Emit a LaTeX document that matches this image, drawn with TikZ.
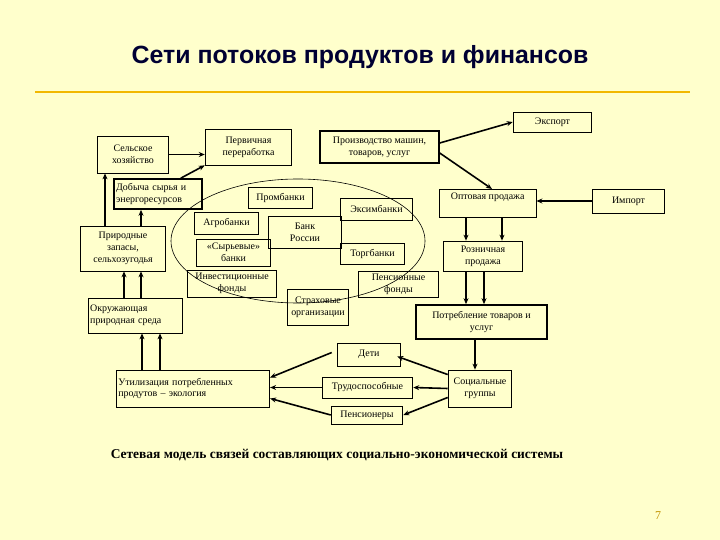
\documentclass[tikz,border=0pt]{standalone}
\usepackage{fontspec}
\setmainfont{Liberation Serif}
\newfontfamily\titlefont{Liberation Sans}
\usetikzlibrary{arrows.meta}
\definecolor{bg}{HTML}{FFFFCC}
\definecolor{orng}{HTML}{F2B800}
\begin{document}
\begin{tikzpicture}[x=1bp,y=-1bp,
  box/.style={draw,line width=0.8pt,inner sep=1pt,font=\fontsize{10}{12}\selectfont,align=center},
  tbox/.style={box,line width=1.8pt},
  arr/.style={line width=1.6pt,-{Stealth[length=6pt,width=5pt]}}]
\fill[bg] (0,0) rectangle (720,540);
\useasboundingbox (0,0) rectangle (720,540);
\node[font=\titlefont\bfseries\fontsize{25}{28}\selectfont,text=black!80!blue] (title) at (360,57) {Сети потоков продуктов и финансов};
\draw[orng,line width=3pt] (35,92) -- (690,92);
\draw[line width=0.6pt] (298,241) ellipse (127 and 62);
% left column
\node[box,minimum width=72,minimum height=37] (sel) at (133,154.5) {Сельское\\хозяйство};
\node[box,minimum width=87,minimum height=36] (per) at (248.5,147) {Первичная\\переработка};
\node[tbox,minimum width=88,minimum height=30,align=left,text width=84] (dob) at (158,194) {Добыча сырья и\\энергоресурсов};
\node[box,minimum width=86,minimum height=45] (pri) at (123,248.5) {Природные\\запасы,\\сельхозугодья};
\node[box,minimum width=95,minimum height=35,align=left,text width=91] (okr) at (135.5,315.5) {Окружающая\\природная среда};
% banks
\node[box,minimum width=65,minimum height=21] (prom) at (280.5,197.5) {Промбанки};
\node[box,minimum width=65,minimum height=22] (agro) at (226.5,223) {Агробанки};
\node[box,minimum width=74,minimum height=32] (bank) at (305,232) {Банк\\России};
\node[box,minimum width=73,minimum height=22] (exim) at (376.5,209) {Эксимбанки};
\node[box,minimum width=75,minimum height=27] (syr) at (233.5,252.5) {«Сырьевые»\\банки};
\node[box,minimum width=65,minimum height=21] (torg) at (372.5,253.5) {Торгбанки};
\node[box,minimum width=90,minimum height=27] (inv) at (232,283.5) {Инвестиционные\\фонды};
\node[box,minimum width=62,minimum height=36] (str) at (318,307) {Страховые\\организации};
\node[box,minimum width=81,minimum height=26] (pen) at (398.5,284) {Пенсионные\\фонды};
% right
\node[tbox,minimum width=119,minimum height=32] (proizv) at (379.5,147) {Производство машин,\\товаров, услуг};
\node[box,minimum width=79,minimum height=20] (exp) at (552.5,122) {Экспорт};
\node[box,minimum width=97,minimum height=28,anchor=north west,align=left,text depth=14pt] (opt) at (439,189) {Оптовая продажа};
\node[box,minimum width=73,minimum height=24] (imp) at (628.5,201) {Импорт};
\node[box,minimum width=80,minimum height=30] (roz) at (483,256) {Розничная\\продажа};
\node[tbox,minimum width=131,minimum height=34] (potr) at (481.5,322) {Потребление товаров и\\услуг};
% bottom
\node[box,minimum width=64,minimum height=23] (deti) at (369,354.5) {Дети};
\node[box,minimum width=154,minimum height=37,align=left,text width=150] (util) at (193,388.5) {Утилизация потребленных\\продутов -- экология\\[3pt]};
\node[box,minimum width=91,minimum height=21] (trud) at (367.5,387.5) {Трудоспособные};
\node[box,minimum width=64,minimum height=37] (soc) at (480,388.5) {Социальные\\группы};
\node[box,minimum width=72,minimum height=18] (pens) at (367,415) {Пенсионеры};
\node[font=\bfseries\fontsize{13.5}{15}\selectfont] (cap) at (337,455) {Сетевая модель связей составляющих социально-экономической системы};
\node[font=\fontsize{12}{14}\selectfont,text=orng!80!black] (num) at (658,516) {7};
% arrows
\draw[arr] (sel.east) -- (per.west|-sel.east);
\draw[arr] ([xshift=-22pt]dob.north east) -- (per.south west);
\draw[arr] (pri.north -| 105,0) -- (sel.south -| 105,0);
\draw[arr] (pri.north -| 141,0) -- (dob.south -| 141,0);
\draw[arr] (okr.north -| 124,0) -- (pri.south -| 124,0);
\draw[arr] (okr.north -| 141,0) -- (pri.south -| 141,0);
\draw[arr] (util.north -| 142,0) -- (okr.south -| 142,0);
\draw[arr] (util.north -| 160,0) -- (okr.south -| 160,0);
\draw[arr] ([yshift=4pt]proizv.east) -- (exp.west);
\draw[arr] ([yshift=-6pt]proizv.east) -- (opt.north -| 492,0);
\draw[arr] (imp.west) -- (opt.east|-imp.west);
\draw[arr] (opt.south -| 466,0) -- (roz.north -| 466,0);
\draw[arr] (opt.south -| 502,0) -- (roz.north -| 502,0);
\draw[arr] (roz.south -| 466,0) -- (potr.north -| 466,0);
\draw[arr] (roz.south -| 484,0) -- (potr.north -| 484,0);
\draw[arr] (potr.south -| 475,0) -- (soc.north -| 475,0);
\draw[arr] ([yshift=14pt]soc.west) -- ([xshift=-4pt,yshift=-2pt]deti.east);
\draw[arr] (soc.west) -- (trud.east);
\draw[arr] ([yshift=-9pt]soc.west) -- (pens.east);
\draw[arr] ([xshift=-5pt,yshift=2pt]deti.west) -- ([yshift=11pt]util.east);
\draw[arr] (trud.west) -- (util.east|-trud.west);
\draw[arr] (pens.west) -- ([yshift=-10pt]util.east);
\end{tikzpicture}
\end{document}
